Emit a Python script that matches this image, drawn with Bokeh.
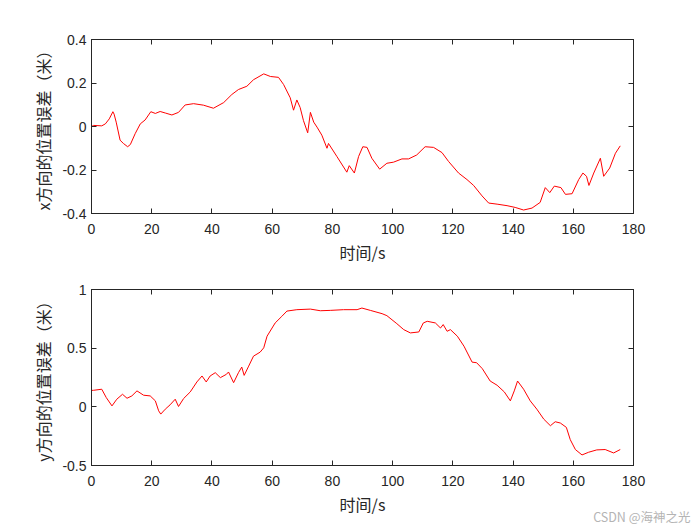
from bokeh.plotting import figure
from bokeh.models import Range1d, FixedTicker, LinearAxis, CustomJSTickFormatter, Title
from bokeh.layouts import column
from bokeh.embed import file_html
from bokeh.resources import INLINE

# ---- data ----
time_x = [0, 0.7, 3.4, 4.6, 5.9, 7.1, 7.5, 8.2, 9.5, 10.6, 12.0, 12.9, 14.5, 16.2, 17.8,
          19.7, 21.2, 22.8, 24.5, 26.7, 28.9, 31.1, 33.9, 37.2, 40.5, 43.9, 46.6, 48.8,
          51.6, 53.8, 57.2, 59.4, 62.1, 63.8, 66.0, 67.1, 68.2, 69.3, 70.4, 71.8, 72.7,
          73.8, 74.9, 76.5, 78.2, 78.7, 81.5, 84.8, 85.6, 87.3, 88.7, 90.1, 91.5, 93.1,
          95.7, 98.1, 100.3, 103.1, 105.3, 108.0, 110.8, 113.6, 116.4, 118.6, 121.9,
          124.7, 126.9, 129.7, 131.9, 134.7, 138.0, 140.7, 143.5, 146.3, 149.0, 150.7,
          152.2, 153.7, 155.9, 157.4, 159.6, 161.8, 163.2, 164.4, 165.2, 166.8, 169.0,
          170.1, 172.1, 174.0, 175.6]
err_x = [0.0, 0.005, 0.003, 0.012, 0.035, 0.068, 0.057, 0.02, -0.063, -0.078, -0.093,
         -0.083, -0.033, 0.012, 0.03, 0.068, 0.06, 0.069, 0.062, 0.053, 0.065, 0.099,
         0.105, 0.098, 0.084, 0.11, 0.147, 0.17, 0.185, 0.215, 0.242, 0.23, 0.226, 0.193,
         0.132, 0.075, 0.122, 0.087, 0.027, -0.029, 0.065, 0.02, -0.003, -0.04, -0.1,
         -0.078, -0.138, -0.21, -0.18, -0.214, -0.138, -0.093, -0.096, -0.146, -0.196,
         -0.169, -0.164, -0.149, -0.149, -0.131, -0.093, -0.096, -0.12, -0.161, -0.214,
         -0.244, -0.271, -0.319, -0.352, -0.357, -0.364, -0.372, -0.384, -0.375, -0.349,
         -0.281, -0.304, -0.274, -0.281, -0.312, -0.309, -0.244, -0.214, -0.229, -0.271,
         -0.214, -0.146, -0.229, -0.191, -0.123, -0.089]

time_y = [0, 0.7, 3.4, 4.9, 6.8, 8.4, 10.3, 11.8, 13.4, 15.1, 17.3, 19.5, 21.2, 22.3,
          23.0, 24.5, 26.1, 27.8, 28.9, 30.6, 32.8, 35.0, 36.7, 38.1, 39.4, 41.1, 42.8,
          44.8, 45.5, 47.2, 48.8, 49.9, 50.7, 52.2, 53.8, 56.0, 57.2, 58.3, 61.0, 63.2,
          64.9, 68.2, 72.7, 76.0, 79.3, 83.7, 88.2, 89.8, 92.6, 96.5, 98.1, 101.4, 103.7,
          105.9, 108.7, 110.2, 111.5, 114.2, 115.9, 116.8, 118.1, 119.2, 121.5, 123.7,
          126.4, 127.9, 129.8, 132.4, 134.7, 137.1, 139.1, 140.4, 141.5, 143.5, 145.7,
          147.9, 150.2, 152.4, 154.0, 155.7, 157.7, 159.0, 160.7, 162.9, 165.1, 167.8,
          170.6, 173.4, 175.6]
err_y = [0.14, 0.141, 0.15, 0.079, 0.008, 0.065, 0.107, 0.073, 0.093, 0.136, 0.099,
         0.093, 0.051, -0.034, -0.062, -0.02, 0.017, 0.065, 0.003, 0.071, 0.127, 0.212,
         0.263, 0.212, 0.263, 0.291, 0.249, 0.277, 0.297, 0.206, 0.291, 0.339, 0.268,
         0.347, 0.432, 0.466, 0.503, 0.602, 0.715, 0.771, 0.816, 0.828, 0.833, 0.819,
         0.822, 0.828, 0.828, 0.842, 0.822, 0.794, 0.777, 0.709, 0.658, 0.63, 0.638,
         0.715, 0.729, 0.715, 0.672, 0.701, 0.644, 0.658, 0.602, 0.517, 0.381, 0.376,
         0.325, 0.22, 0.184, 0.127, 0.051, 0.136, 0.22, 0.15, 0.051, -0.02, -0.105,
         -0.161, -0.127, -0.138, -0.175, -0.28, -0.364, -0.41, -0.387, -0.367, -0.364,
         -0.393, -0.364]

x_ticks = [0, 20, 40, 60, 80, 100, 120, 140, 160, 180]
x_tick_labels = ["0", "20", "40", "60", "80", "100", "120", "140", "160", "180"]
top_y_ticks = [-0.4, -0.2, 0, 0.2, 0.4]
top_y_labels = ["-0.4", "-0.2", "0", "0.2", "0.4"]
bot_y_ticks = [-0.5, 0, 0.5, 1]
bot_y_labels = ["-0.5", "0", "0.5", "1"]
x_label = "时间/s"
top_y_title = "x方向的位置误差（米）"
bot_y_title = "y方向的位置误差（米）"
watermark = "CSDN @海神之光"

AX = "#262626"
NUM_FONT = "Liberation Sans"
CJK_FONT = "Noto Sans CJK SC"


def style_axis(ax, ticks, labels, show):
    ax.ticker = FixedTicker(ticks=ticks)
    ax.major_tick_in = 5
    ax.major_tick_out = 0
    ax.minor_tick_line_color = None
    ax.axis_line_color = AX
    ax.major_tick_line_color = AX
    if show:
        ax.major_label_overrides = {t: l for t, l in zip(ticks, labels)}
        ax.major_label_text_font = NUM_FONT
        ax.major_label_text_font_size = "14px"
        ax.major_label_text_color = AX
    else:
        ax.formatter = CustomJSTickFormatter(code="return ''")
        ax.major_label_standoff = 0


def make(t, v, yr, yticks, ylabels, ytitle, height, btop, bbot):
    p = figure(width=700, height=height, output_backend="svg", toolbar_location=None,
               x_range=Range1d(0, 180), y_range=Range1d(*yr),
               min_border_left=91, min_border_right=67,
               min_border_top=btop, min_border_bottom=bbot)
    p.background_fill_color = "white"
    p.border_fill_color = "white"
    p.outline_line_color = AX
    p.grid.visible = False
    p.line(t, v, line_color="#ff0000", line_width=1)

    xa = p.xaxis[0]
    style_axis(xa, x_ticks, x_tick_labels, True)
    xa.major_label_standoff = 10
    xa.axis_label = x_label
    xa.axis_label_text_font = CJK_FONT
    xa.axis_label_text_font_size = "16px"
    xa.axis_label_text_font_style = "normal"
    xa.axis_label_text_color = AX
    xa.axis_label_standoff = 3

    ya = p.yaxis[0]
    style_axis(ya, yticks, ylabels, True)
    ya.major_label_standoff = 5
    ya.axis_label = ytitle
    ya.axis_label_text_font = CJK_FONT
    ya.axis_label_text_font_size = "16px"
    ya.axis_label_text_font_style = "normal"
    ya.axis_label_text_color = AX
    ya.axis_label_standoff = 4

    top = LinearAxis()
    style_axis(top, x_ticks, x_tick_labels, False)
    p.add_layout(top, "above")
    right = LinearAxis()
    style_axis(right, yticks, ylabels, False)
    p.add_layout(right, "right")
    return p


p1 = make(time_x, err_x, (-0.4, 0.4), top_y_ticks, top_y_labels, top_y_title, 266, 39, 52)
p2 = make(time_y, err_y, (-0.5, 1.0), bot_y_ticks, bot_y_labels, bot_y_title, 259, 23, 60)

wm = Title(text=watermark, align="right", vertical_align="top", offset=-57, standoff=-24,
           text_font=CJK_FONT, text_font_size="12.5px", text_font_style="normal",
           text_color="#b4b4b4")
p2.add_layout(wm, "below")

layout = column(p1, p2, spacing=0)
open("out.html", "w").write(file_html(layout, INLINE))
